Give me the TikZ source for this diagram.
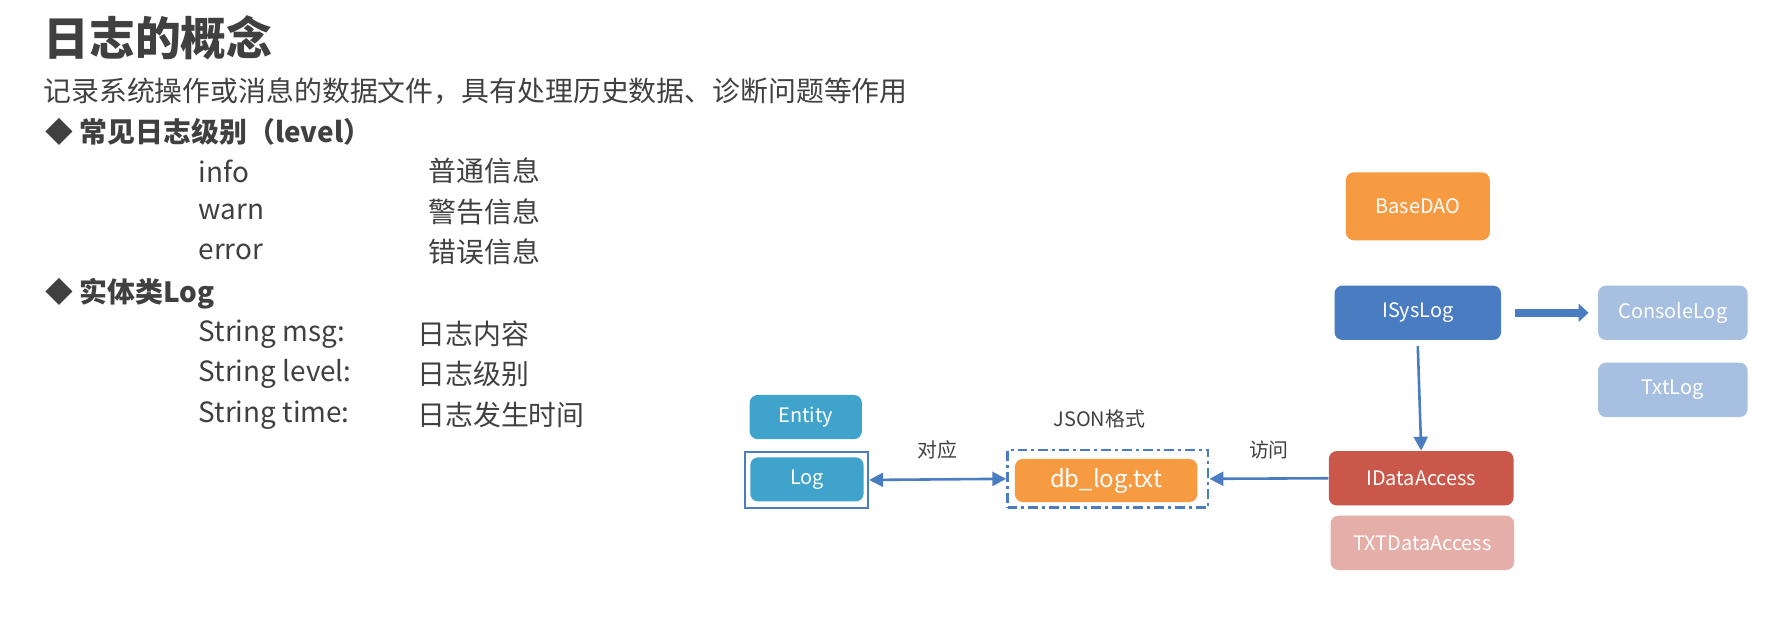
\documentclass[tikz,border=0pt]{standalone}
\usepackage{fontspec}
\setmainfont{Noto Sans CJK SC}
\usetikzlibrary{arrows.meta}
\definecolor{cor}{HTML}{F79B42}
\definecolor{cblue}{HTML}{4A7CC2}
\definecolor{clb}{HTML}{A7BFE0}
\definecolor{cred}{HTML}{C9584A}
\definecolor{cpink}{HTML}{E5AEA8}
\definecolor{cteal}{HTML}{3FA3CC}
\definecolor{ctxt}{HTML}{404040}
\begin{document}
\begin{tikzpicture}[x=0.02cm,y=-0.02cm,
  box/.style={rounded corners=4pt,text=white,font=\fontsize{10}{11}\selectfont,inner sep=0pt},
  txt/.style={anchor=west,text=ctxt,font=\fontsize{14}{16}\selectfont,inner sep=0pt},
  arr/.style={draw=cblue,line width=1.3pt,-{Triangle[length=7pt,width=7pt]}}]
\useasboundingbox (0,0) rectangle (1560,546);
\node[txt,font=\fontsize{23}{25}\selectfont\bfseries] (title) at (38,33) {日志的概念};
\node[txt] (sub) at (38,80) {记录系统操作或消息的数据文件，具有处理历史数据、诊断问题等作用};
\node[txt,font=\fontsize{14}{16}\selectfont\bfseries] (h1) at (40,116) {◆ 常见日志级别（level）};
\node[txt] (l1) at (175,151) {info};
\node[txt] (l2) at (175,187) {warn};
\node[txt] (l3) at (175,222) {error};
\node[txt] (d1) at (378,151) {普通信息};
\node[txt] (d2) at (378,187) {警告信息};
\node[txt] (d3) at (378,222) {错误信息};
\node[txt,font=\fontsize{14}{16}\selectfont\bfseries] (h2) at (40,259) {◆ 实体类Log};
\node[txt] (f1) at (175,295) {String msg:};
\node[txt] (f2) at (175,330) {String level:};
\node[txt] (f3) at (175,366) {String time:};
\node[txt] (g1) at (368,295) {日志内容};
\node[txt] (g2) at (368,330) {日志级别};
\node[txt] (g3) at (368,366) {日志发生时间};

\node[box,fill=cor,minimum width=127*0.02cm,minimum height=60*0.02cm] (base) at (1251,182) {BaseDAO};
\node[box,fill=cblue,minimum width=147*0.02cm,minimum height=48*0.02cm] (isys) at (1251,276) {ISysLog};
\node[box,fill=clb,minimum width=132*0.02cm,minimum height=48*0.02cm] (con) at (1476,276) {ConsoleLog};
\node[box,fill=clb,minimum width=132*0.02cm,minimum height=48*0.02cm] (txl) at (1476,344) {TxtLog};
\node[box,fill=cred,minimum width=163*0.02cm,minimum height=48*0.02cm] (ida) at (1254,422) {IDataAccess};
\node[box,fill=cpink,minimum width=162*0.02cm,minimum height=48*0.02cm] (tda) at (1255,479) {TXTDataAccess};
\node[box,fill=cteal,minimum width=99*0.02cm,minimum height=39*0.02cm] (ent) at (711,368) {Entity};
\node[box,fill=cteal,minimum width=100*0.02cm,minimum height=39*0.02cm] (log) at (712,423) {Log};
\node[draw=cblue,line width=1pt,minimum width=109*0.02cm,minimum height=49*0.02cm,inner sep=0pt] (logf) at (711.5,423.5) {};
\node[box,fill=cor,font=\fontsize{12}{13}\selectfont,minimum width=161*0.02cm,minimum height=38*0.02cm] (db) at (976,424) {db\_log.txt};
\node[draw=cblue,line width=1.3pt,dash pattern=on 5pt off 2pt on 1.5pt off 2pt,minimum width=177*0.02cm,minimum height=51*0.02cm,inner sep=0pt] (dbf) at (977.5,422.5) {};
\node[text=ctxt,font=\fontsize{10}{11}\selectfont] (json) at (970,370) {JSON格式};

\draw[arr,{Triangle[length=7pt,width=7pt]}-{Triangle[length=7pt,width=7pt]}] (logf.east) -- (dbf.west) node[midway,above=6pt,text=ctxt,font=\fontsize{10}{11}\selectfont] {对应};
\draw[arr] (ida.west) -- (dbf.east) node[midway,above=6pt,text=ctxt,font=\fontsize{10}{11}\selectfont] {访问};
\draw[arr] ([yshift=-5*0.02cm]isys.south) -- (ida.north);
\draw[draw=cblue,line width=4pt,-{Triangle[length=5pt,width=9pt]}] ([xshift=12*0.02cm]isys.east) -- ([xshift=-8*0.02cm]con.west);
\end{tikzpicture}
\end{document}
